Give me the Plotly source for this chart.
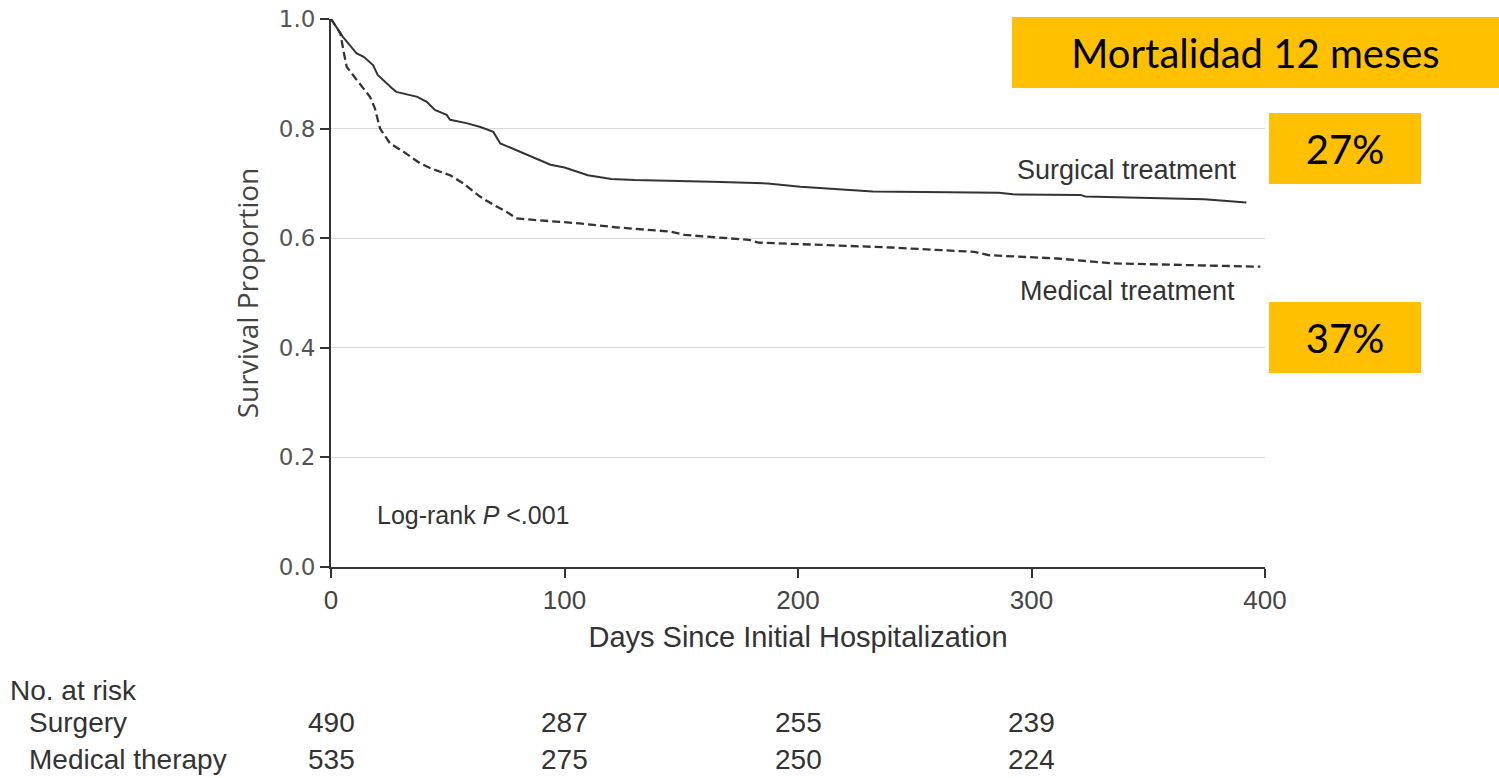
import plotly.graph_objects as go

# Kaplan-Meier survival estimates (days since initial hospitalization)
surgery_days = [0, 5, 11, 14, 18, 20, 26, 28, 37, 41, 44.5, 49.5, 51, 58, 64, 69.5, 72.5,
                81, 88, 94, 100, 106, 110, 120, 130, 163, 187, 201, 220, 232, 286, 292,
                321, 323, 374, 392]
surgery_surv = [1.0, 0.968, 0.937, 0.931, 0.916, 0.898, 0.874, 0.867, 0.858, 0.849, 0.834,
                0.825, 0.816, 0.810, 0.803, 0.794, 0.773, 0.758, 0.746, 0.734, 0.729, 0.721,
                0.715, 0.708, 0.706, 0.703, 0.700, 0.694, 0.688, 0.685, 0.683, 0.680, 0.679,
                0.676, 0.671, 0.665]

medical_days = [0, 4, 5.3, 6.7, 11, 16.7, 18.8, 21, 25.3, 31, 38, 42.4, 51, 56.7, 63.8, 69.5,
                75.2, 79.5, 88, 98, 106.6, 121.8, 145.4, 151.4, 179, 183, 240, 275.7, 281.6,
                311, 335, 398]
medical_surv = [1.0, 0.974, 0.943, 0.913, 0.889, 0.858, 0.837, 0.800, 0.773, 0.758, 0.737,
                0.728, 0.715, 0.700, 0.676, 0.661, 0.648, 0.636, 0.633, 0.630, 0.627, 0.620,
                0.612, 0.606, 0.597, 0.592, 0.583, 0.575, 0.569, 0.563, 0.554, 0.548]

# Number at risk table
risk_days = [0, 100, 200, 300]
risk_surgery = [490, 287, 255, 239]
risk_medical = [535, 275, 250, 224]

# 12-month mortality callouts
mortality_title = "Mortalidad 12 meses"
mortality_surgery = "27%"
mortality_medical = "37%"

y_ticks = [0.0, 0.2, 0.4, 0.6, 0.8, 1.0]
x_ticks = [0, 100, 200, 300, 400]

INK = "#333333"
GOLD = "#FFC000"
SANS = "Liberation Sans, Arial, sans-serif"

# plot area geometry in pixels (used to place text in the left margin)
PLOT_LEFT = 331
PLOT_W = 934

fig = go.Figure()
fig.add_trace(go.Scatter(x=surgery_days, y=surgery_surv, mode="lines",
                         line=dict(color=INK, width=2), showlegend=False,
                         name="Surgical treatment"))
fig.add_trace(go.Scatter(x=medical_days, y=medical_surv, mode="lines",
                         line=dict(color=INK, width=2.3, dash="8px,4px"), showlegend=False,
                         name="Medical treatment"))


def margin_x(px):
    return (px - PLOT_LEFT) / PLOT_W


annotations = [
    dict(x=341, y=0.7245, xref="x", yref="y", text="Surgical treatment", showarrow=False,
         xanchor="center", yanchor="middle", font=dict(family=SANS, size=27, color=INK)),
    dict(x=341, y=0.5036, xref="x", yref="y", text="Medical treatment", showarrow=False,
         xanchor="center", yanchor="middle", font=dict(family=SANS, size=27, color=INK)),
    dict(x=18.8, y=0.095, xref="x", yref="y", text="Log-rank <i>P</i> <.001", showarrow=False,
         xanchor="left", yanchor="middle", font=dict(family=SANS, size=25, color=INK)),
    dict(x=margin_x(8), y=-0.2245, xref="paper", yref="paper", text="No. at risk",
         showarrow=False, xanchor="left", yanchor="middle",
         font=dict(family=SANS, size=28, color=INK)),
    dict(x=margin_x(27), y=-0.283, xref="paper", yref="paper", text="Surgery",
         showarrow=False, xanchor="left", yanchor="middle",
         font=dict(family=SANS, size=28, color=INK)),
    dict(x=margin_x(27), y=-0.352, xref="paper", yref="paper", text="Medical therapy",
         showarrow=False, xanchor="left", yanchor="middle",
         font=dict(family=SANS, size=28, color=INK)),
]
for d, s, m in zip(risk_days, risk_surgery, risk_medical):
    annotations.append(dict(x=d, y=-0.283, xref="x", yref="paper", text=str(s),
                            showarrow=False, xanchor="center", yanchor="middle",
                            font=dict(family=SANS, size=28, color=INK)))
    annotations.append(dict(x=d, y=-0.352, xref="x", yref="paper", text=str(m),
                            showarrow=False, xanchor="center", yanchor="middle",
                            font=dict(family=SANS, size=28, color=INK)))

# Gold callout boxes
box_font = dict(family="Lato, Liberation Sans, sans-serif", size=40, color="black")
box_common = dict(xref="paper", yref="paper", showarrow=False, bgcolor=GOLD, height=71,
                  borderpad=0, borderwidth=0, xanchor="center", yanchor="middle",
                  font=box_font)
annotations += [
    dict(x=margin_x(1255.5), y=0.9389, text=mortality_title, width=487, **box_common),
    dict(x=margin_x(1345), y=0.7637, text=mortality_surgery, width=152, **box_common),
    dict(x=margin_x(1345), y=0.4188, text=mortality_medical, width=152, **box_common),
]

fig.update_layout(
    width=1499, height=778,
    margin=dict(l=331, r=234, t=19, b=211),
    paper_bgcolor="white", plot_bgcolor="white",
    annotations=annotations,
    xaxis=dict(range=[0, 400], tickvals=x_ticks, showgrid=False, zeroline=False,
               automargin=False,
               showline=True, linecolor=INK, linewidth=2, ticks="outside", ticklen=9,
               tickwidth=2, tickcolor=INK,
               tickfont=dict(family=SANS, size=26, color="#444"),
               title=dict(text="Days Since Initial Hospitalization", standoff=12,
                          font=dict(family=SANS, size=29, color=INK))),
    yaxis=dict(range=[0, 1], tickvals=y_ticks, tickformat=".1f", showgrid=True,
               gridcolor="#dadada", gridwidth=1, zeroline=False, automargin=False,
               showline=True, linecolor=INK, linewidth=2, ticks="outside", ticklen=9,
               tickwidth=2, tickcolor=INK,
               tickfont=dict(family="DejaVu Sans, sans-serif", size=23, color="#555"),
               title=dict(text="Survival Proportion", standoff=12,
                          font=dict(family="Open Sans, sans-serif", size=28, color="#444"))),
)

fig.write_html("out.html")
